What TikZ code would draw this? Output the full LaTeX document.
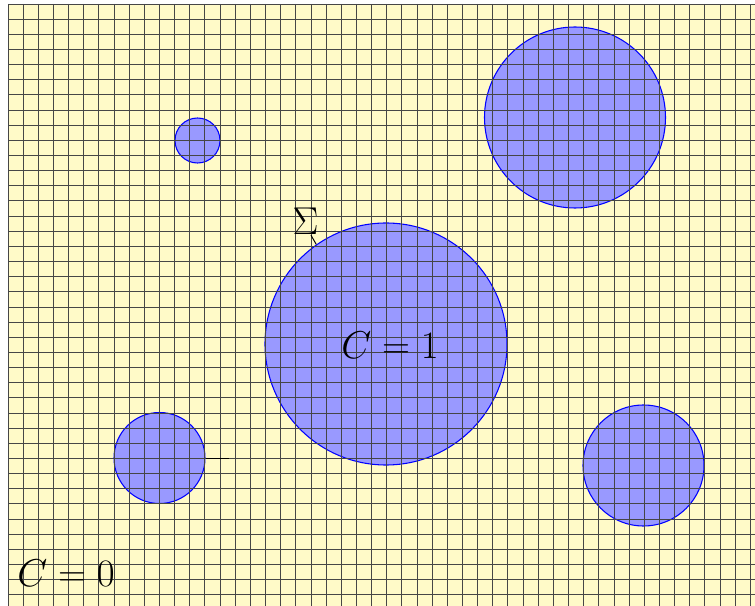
\documentclass[tikz,border=0pt]{standalone}
\usepackage{graphicx}
\definecolor{bgyellow}{RGB}{255,250,200}
\definecolor{gridgray}{RGB}{70,70,70}
\newcommand{\biglab}[1]{\scalebox{1.054}{\LARGE #1}}
\tikzset{
  region/.style={circle, draw=blue, fill=blue!40, line width=0.5pt, inner sep=0pt, minimum size={#1*0.0165017cm}},
  gridline/.style={draw=gridgray, line width=0.45pt},
  lab/.style={inner sep=0pt},
  pointer/.style={line width=0.45pt},
}
\begin{document}
\begin{tikzpicture}[x=0.0165017cm, y=-0.0165017cm]
\useasboundingbox (0,0) rectangle (755,606);
\clip (0,0) rectangle (755,606);
\fill[bgyellow] (8,4) rectangle (760,610);
% regions
\node[region=242] (big) at (386,344) {};
\node[region=181] (tr) at (575,117.5) {};
\node[region=45] (tl) at (197.5,140.5) {};
\node[region=91] (bl) at (159.5,458) {};
\node[region=121] (br) at (643.5,465.5) {};
% grid
\foreach \k in {0,...,49} {
  \draw[gridline] ({8+15.15*\k},4) -- ({8+15.15*\k},610);
}
\foreach \k in {0,...,39} {
  \draw[gridline] (8,{4+15.15*\k}) -- (760,{4+15.15*\k});
}
% labels
\node[lab] (c1) at (390,345) {\biglab{$C=1$}};
\node[lab] (c0) at (66,573) {\biglab{$C=0$}};
\node[lab] (sig) at (305.5,221.5) {\biglab{$\Sigma$}};
\draw[pointer] ([xshift=0.09cm]sig.south) -- (big.125);
\draw[pointer] (bl.east) -- ++(23,0);
\end{tikzpicture}
\end{document}
